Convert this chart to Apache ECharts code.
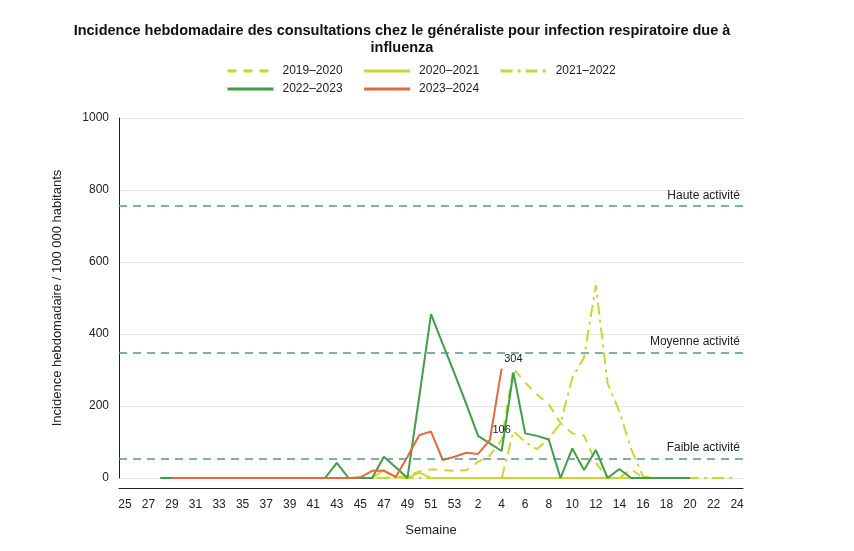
<!DOCTYPE html>
<html>
<head>
<meta charset="utf-8">
<script src="https://cdn.jsdelivr.net/npm/echarts@6/dist/echarts.min.js"></script>
<style>
  html, body { margin: 0; padding: 0; background: #fff; }
  #chart { width: 854px; height: 551px; }
</style>
</head>
<body>
<div id="chart"></div>
<script>
// semaines ISO, de la semaine 25 à la semaine 24 de l'année suivante
const weeks = ['25','26','27','28','29','30','31','32','33','34','35','36','37','38','39','40',
  '41','42','43','44','45','46','47','48','49','50','51','52','53',
  '1','2','3','4','5','6','7','8','9','10','11','12','13','14','15','16','17','18','19','20','21','22','23','24']

const seasonNames = ['2019–2020', '2020–2021', '2021–2022', '2022–2023', '2023–2024']

// chaque saison : semaine de départ + valeurs
const start1920 = '40'
const season1920 = [0, 0, 0, 0, 0, 0, 0, 0, 2, 5, 18, 24, 22, 20,
  22, 45, 62, 106, 304, 265, 232, 205, 152, 124, 118, 42, 0, 0, 25, 0, 0, 0, 0, 0]
const labelledWeeks1920 = ['4', '5']

const start2021 = '40'
const season2021 = [0, 0, 0, 0, 0, 0, 0, 22, 3, 0, 15, 0, 0, 0,
  0, 0, 0, 0, 0, 0, 0, 0, 0, 0, 0, 0, 0, 0, 0, 0, 0, 0, 0, 0]

const start2122 = '40'
const season2122 = [0, 0, 0, 0, 0, 0, 0, 0, 0, 0, 0, 0, 0, 0,
  0, 0, 0, 0, 130, 100, 80, 110, 152, 278, 335, 536, 263, 185, 80, 5, 0, 0, 0, 0, 0, 0, 0, 0]

const start2223 = '28'
const season2223 = [0, 0, 0, 0, 0, 0, 0, 0, 0, 0, 0, 0, 0, 0, 0, 42, 0, 0, 0, 59, 30, 0, 225, 455, 372, 290,
  205, 117, 96, 75, 293, 124, 117, 107, 0, 82, 22, 78, 0, 25, 0, 0, 0, 0, 0, 0]

const start2324 = '29'
const season2324 = [0, 0, 0, 0, 0, 0, 0, 0, 0, 0, 0, 0, 0, 0, 0, 0, 2, 20, 20, 3, 59, 119, 129, 50, 59,
  70, 67, 106, 304]

const thresholds = [755, 347, 53]
const thresholdNames = ['Haute activité', 'Moyenne activité', 'Faible activité']

const yellow = '#c9d72e'
const green = '#3f9f44'
const orange = '#e8683a'
const font = 'Liberation Sans, Arial, sans-serif'

function place(startWeek, values) {
  const i0 = weeks.indexOf(startWeek)
  return weeks.map((w, i) => (i >= i0 && i - i0 < values.length ? values[i - i0] : null))
}

const chart = echarts.init(document.getElementById('chart'))

const data1920 = place(start1920, season1920).map((v, i) =>
  labelledWeeks1920.includes(weeks[i]) ? { value: v, label: { show: true } } : v)

const legendCommon = {
  orient: 'horizontal',
  left: 221,
  itemWidth: 46,
  itemHeight: 12,
  itemGap: 20,
  itemStyle: { color: 'rgba(0,0,0,0)', borderWidth: 0, opacity: 0 },
  lineStyle: { width: 3 },
  textStyle: { fontFamily: font, fontSize: 12, color: '#222', padding: [0, 0, 0, 4] }
}

function lineSeries(name, data, color, dash) {
  return {
    name: name,
    type: 'line',
    data: data,
    symbol: 'circle',
    symbolSize: 0,
    showSymbol: true,
    showAllSymbol: true,
    lineStyle: { color: color, width: 2, type: dash },
    itemStyle: { color: color },
    emphasis: { disabled: true }
  }
}

const s1920 = lineSeries(seasonNames[0], data1920, yellow, [9, 7])
s1920.label = { show: false, position: 'top', distance: 4, fontFamily: font, fontSize: 11, color: '#222' }
s1920.markLine = {
  silent: true,
  symbol: 'none',
  lineStyle: { color: '#4f9a86', width: 1.5, type: [8, 6] },
  label: {
    position: 'insideEndTop',
    formatter: '{b}',
    fontFamily: font,
    fontSize: 12,
    color: '#222',
    distance: [3, 5]
  },
  data: thresholds.map((v, i) => ({ yAxis: v, name: thresholdNames[i] }))
}

const option = {
  backgroundColor: '#fff',
  animation: false,
  title: {
    text: 'Incidence hebdomadaire des consultations chez le généraliste pour infection respiratoire due à\ninfluenza',
    left: 397,
    top: 17,
    textAlign: 'center',
    textStyle: { fontFamily: font, fontSize: 14.5, fontWeight: 'bold', color: '#111', lineHeight: 17 }
  },
  legend: [
    Object.assign({}, legendCommon, { top: 60, data: seasonNames.slice(0, 3) }),
    Object.assign({}, legendCommon, { top: 78, data: seasonNames.slice(3) })
  ],
  grid: { left: 119, top: 118, right: 111, bottom: 73 },
  xAxis: {
    type: 'category',
    data: weeks,
    boundaryGap: true,
    offset: 10,
    name: 'Semaine',
    nameLocation: 'middle',
    nameGap: 36,
    nameTextStyle: { fontFamily: font, fontSize: 13, color: '#222' },
    axisLine: { onZero: false, lineStyle: { color: '#222', width: 1 } },
    axisTick: { alignWithLabel: true, interval: 1, length: 5, lineStyle: { color: '#222' } },
    axisLabel: { interval: 1, fontFamily: font, fontSize: 12, color: '#222', margin: 11 },
    splitLine: { show: false }
  },
  yAxis: {
    type: 'value',
    min: 0,
    max: 1000,
    interval: 200,
    name: 'Incidence hebdomadaire / 100 000 habitants',
    nameLocation: 'middle',
    nameGap: 55,
    nameTextStyle: { fontFamily: font, fontSize: 13, color: '#222' },
    axisLine: { show: true, lineStyle: { color: '#222', width: 1 } },
    axisTick: { show: false },
    axisLabel: { fontFamily: font, fontSize: 12, color: '#222', margin: 10, formatter: v => String(v) },
    splitLine: { show: true, lineStyle: { color: '#e6e6e6', width: 1 } }
  },
  series: [
    s1920,
    lineSeries(seasonNames[1], place(start2021, season2021), yellow, 'solid'),
    lineSeries(seasonNames[2], place(start2122, season2122), yellow, [12, 5, 3, 5]),
    lineSeries(seasonNames[3], place(start2223, season2223), green, 'solid'),
    lineSeries(seasonNames[4], place(start2324, season2324), orange, 'solid')
  ]
}

chart.setOption(option)
</script>
</body>
</html>
